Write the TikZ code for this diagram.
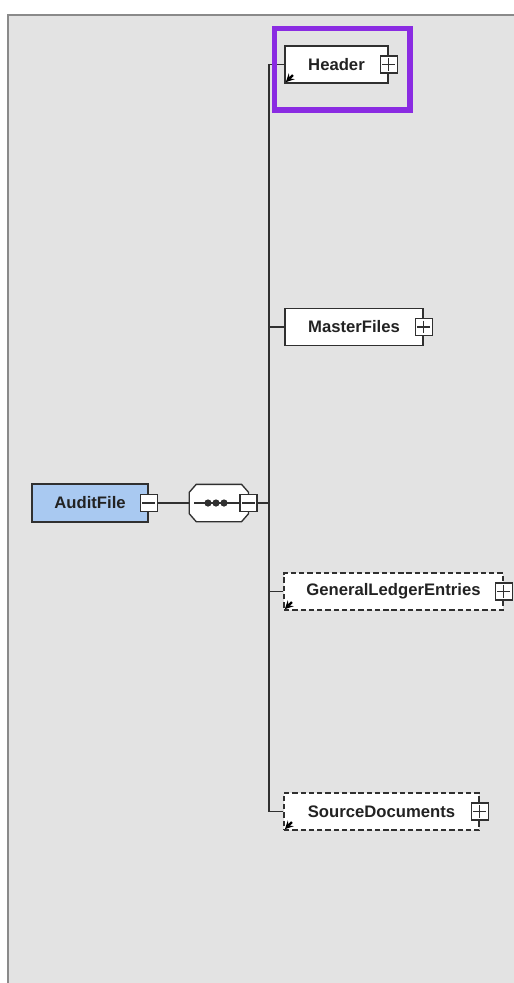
\documentclass[tikz,border=0pt]{standalone}
\usepackage{fontspec}
\setmainfont{Liberation Sans}
\usetikzlibrary{arrows, positioning}
\definecolor{panel}{HTML}{E3E3E3}
\definecolor{panelline}{HTML}{8A8A8A}
\definecolor{boxline}{HTML}{303030}
\definecolor{txt}{HTML}{222222}
\definecolor{rootblue}{HTML}{A9C9F1}
\definecolor{hilite}{RGB}{138,43,226}

\begin{document}
\begin{tikzpicture}[x = 0.75pt, y = -0.75pt, line width = 1pt, > = stealth,
    font = \bfseries\fontsize{12.5}{14}\selectfont,
    every edge/.style = {draw = boxline, line width = 1.1pt},
    elem/.style = {draw = boxline, fill = white, line width = 1.1pt, minimum height = 27.75pt, inner sep = 0pt, text = txt},
    optional/.style = {elem, dash pattern = on 4pt off 2.2pt},
    root/.style = {elem, fill = rootblue, minimum height = 28.5pt},
    toggle/.style = {draw = boxline, fill = white, line width = 1pt, minimum size = 12.75pt, inner sep = 0pt},
    plus/.style = {toggle, path picture = {
        \draw[line width = 0.9pt] ([xshift = 1.6pt]path picture bounding box.west) -- ([xshift = -1.6pt]path picture bounding box.east);
        \draw[line width = 0.9pt] ([yshift = -1.6pt]path picture bounding box.north) -- ([yshift = 1.6pt]path picture bounding box.south);}},
    minus/.style = {toggle, path picture = {
        \draw[line width = 0.9pt] ([xshift = 1.6pt]path picture bounding box.west) -- ([xshift = -1.6pt]path picture bounding box.east);}},
    seqbox/.style = {minimum width = 43.5pt, minimum height = 27pt, inner sep = 0pt},
    octagon/.style = {draw = boxline, fill = white, line width = 1pt},
    branch/.style = {to path = {|- (\tikztotarget)}},
    refmark/.style = {->, draw = black, line width = 1.7pt}]

    \useasboundingbox (0,0) rectangle (514,983);
    % panel
    \fill[panel] (8,15) rectangle (514,983);
    \draw[panelline, line width = 1.2pt] (8,983) -- (8,15) -- (514,15);

    % elements
    \node[root, minimum width = 87pt]			(audit)		at (90,503)		{AuditFile};
    \node[minus]							(auditm)	at (audit.east)	{};
    \node[seqbox]						(seq)		[right = 23.5pt of auditm]	{};
    \draw[octagon] ([xshift = 5.25pt]seq.north west) -- ([xshift = -5.25pt]seq.north east)
        -- ([yshift = -6pt]seq.north east) -- ([yshift = 6pt]seq.south east)
        -- ([xshift = -5.25pt]seq.south east) -- ([xshift = 5.25pt]seq.south west)
        -- ([yshift = 6pt]seq.south west) -- ([yshift = -6pt]seq.north west) -- cycle;
    \node[minus]							(seqm)		at (seq.east)	{};
    \coordinate							(trunk)		at (269,503);
    \node[elem, minimum width = 77.25pt]		(header)	at (336.5,64.5)	{Header};
    \node[plus]							(headerp)	at (header.east)	{};
    \node[elem, minimum width = 103.5pt]		(master)	at (354,327)	{MasterFiles};
    \node[plus]							(masterp)	at (master.east)	{};
    \node[optional, minimum width = 164.25pt]	(ledger)	at (393.5,591.5)	{GeneralLedgerEntries};
    \node[plus]							(ledgerp)	at (ledger.east)	{};
    \node[optional, minimum width = 146.25pt]	(source)	at (381.5,811.5)	{SourceDocuments};
    \node[plus]							(sourcep)	at (source.east)	{};

    % connectors
    \path	(auditm)	edge					(seq);
    \path	([xshift = 3.75pt]seq.west)	edge	(seqm);
    \path	(seqm)		edge					(trunk);
    \path	(trunk)		edge[branch]			(header);
    \path	(trunk)		edge[branch]			(master);
    \path	(trunk)		edge[branch]			(ledger);
    \path	(trunk)		edge[branch]			(source);
    \foreach \x in {208,216,224}
        \fill[boxline] (\x,503) circle (2.7pt);

    % reference marks
    \draw[refmark] ([xshift = 6.5pt, yshift = 6.5pt]header.south west) -- ([xshift = 1.2pt, yshift = 1.2pt]header.south west);
    \draw[refmark] ([xshift = 6.5pt, yshift = 6.5pt]ledger.south west) -- ([xshift = 1.2pt, yshift = 1.2pt]ledger.south west);
    \draw[refmark] ([xshift = 6.5pt, yshift = 6.5pt]source.south west) -- ([xshift = 1.2pt, yshift = 1.2pt]source.south west);

    % highlight
    \draw[hilite, line width = 4.1pt] (274.5,28.5) rectangle (410,110);
\end{tikzpicture}
\end{document}
